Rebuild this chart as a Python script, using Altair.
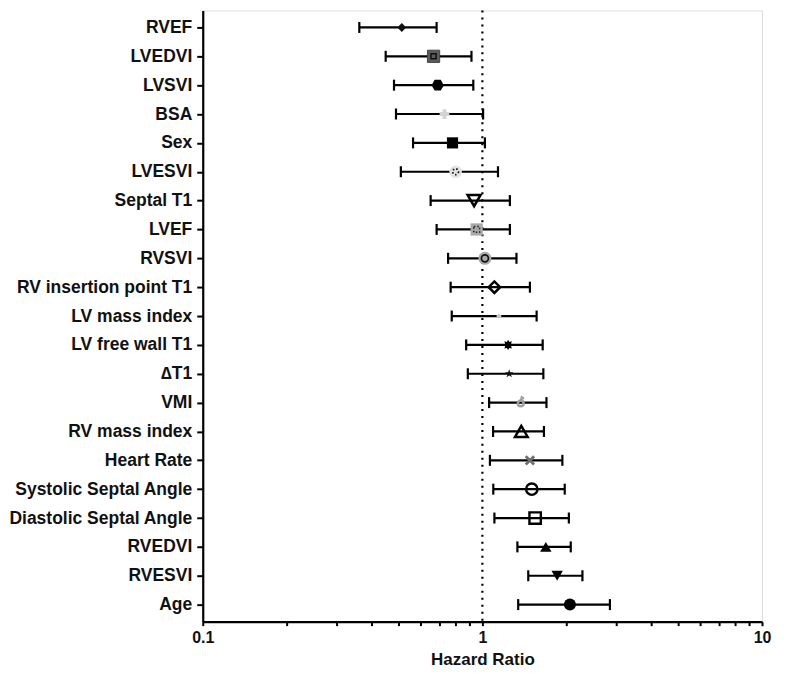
import altair as alt
import pandas as pd
import numpy as np

# ---------------- data ----------------
labels = ["RVEF", "LVEDVI", "LVSVI", "BSA", "Sex", "LVESVI", "Septal T1", "LVEF", "RVSVI",
          "RV insertion point T1", "LV mass index", "LV free wall T1", "\u2206T1", "VMI",
          "RV mass index", "Heart Rate", "Systolic Septal Angle", "Diastolic Septal Angle",
          "RVEDVI", "RVESVI", "Age"]
hr = [0.515, 0.669, 0.692, 0.732, 0.782, 0.802, 0.934, 0.954, 1.021, 1.104, 1.146, 1.236,
      1.247, 1.371, 1.378, 1.479, 1.502, 1.544, 1.686, 1.851, 2.056]
lo = [0.363, 0.451, 0.483, 0.491, 0.565, 0.511, 0.653, 0.686, 0.754, 0.770, 0.777, 0.875,
      0.887, 1.057, 1.092, 1.064, 1.094, 1.104, 1.334, 1.459, 1.343]
hi = [0.686, 0.914, 0.928, 1.006, 1.021, 1.137, 1.254, 1.254, 1.324, 1.479, 1.563, 1.643,
      1.652, 1.695, 1.660, 1.932, 1.970, 2.038, 2.070, 2.279, 2.858]
ref_value = [1]
tick_values = [0.1, 0.2, 0.3, 0.4, 0.5, 0.6, 0.7, 0.8, 0.9, 1, 2, 3, 4, 5, 6, 7, 8, 9, 10]

df = pd.DataFrame({"label": labels, "hr": hr, "lo": lo, "hi": hi})

# ---------------- marker styles ----------------
HEX = "M-1,0L-0.5,-0.87L0.5,-0.87L1,0L0.5,0.87L-0.5,0.87Z"
STAR = ("M0,-1L0.235,-0.324L0.951,-0.309L0.38,0.124L0.588,0.809L0,0.4L-0.588,0.809"
        "L-0.38,0.124L-0.951,-0.309L-0.235,-0.324Z")
ang = np.arange(16) * np.pi / 8
rad = np.where(np.arange(16) % 2 == 0, 1.0, 0.62)
AST = "M" + "L".join(f"{r*np.sin(a):.3f},{-r*np.cos(a):.3f}" for r, a in zip(rad, ang)) + "Z"
XSH = "M-1,-1L1,1M-1,1L1,-1"
MALE = ("M0.5,0.15A0.5,0.5 0 1,1 -0.5,0.15A0.5,0.5 0 1,1 0.5,0.15"
        "M0.05,-0.35L0.2,-0.9L0.55,-0.7")

# shape, fill, stroke, size, strokeWidth
style = {
    "RVEF": ("diamond", "#111", "#111", 80, 0),
    "LVEDVI": ("square", "#5c5c5c", "#444", 150, 1),
    "LVSVI": (HEX, "#000", "#000", 150, 0),
    "BSA": ("cross", "#d4d4d4", "#d4d4d4", 95, 0),
    "Sex": ("square", "#000", "#000", 125, 0),
    "LVESVI": ("circle", "#e3e3e3", "#e3e3e3", 160, 0),
    "Septal T1": ("triangle-down", "none", "#000", 170, 2.5),
    "LVEF": ("square", "#a9a9a9", "#a9a9a9", 150, 0),
    "RVSVI": ("circle", "#aaaaaa", "#aaaaaa", 170, 0),
    "RV insertion point T1": ("diamond", "none", "#000", 130, 2.5),
    "LV mass index": ("cross", "#c8c8c8", "#c8c8c8", 22, 0),
    "LV free wall T1": (AST, "#000", "#000", 110, 0),
    "\u2206T1": (STAR, "#111", "#111", 80, 0),
    "VMI": (MALE, "none", "#a0a0a0", 130, 2.5),
    "RV mass index": ("triangle-up", "none", "#000", 160, 2.5),
    "Heart Rate": (XSH, "none", "#707070", 70, 2.8),
    "Systolic Septal Angle": ("circle", "none", "#000", 130, 2.4),
    "Diastolic Septal Angle": ("square", "none", "#000", 130, 2.4),
    "RVEDVI": ("triangle-up", "#000", "#000", 130, 0),
    "RVESVI": ("triangle-down", "#000", "#000", 130, 0),
    "Age": ("circle", "#000", "#000", 145, 0),
}

FONT = "Liberation Sans"
W, H = 560, 612

xscale = alt.Scale(type="log", domain=[0.1, 10], nice=False)
yscale = alt.Scale(type="point", domain=labels, padding=0.59)

x_axis = alt.Axis(values=tick_values,
                  labelExpr="(datum.value == 0.1 || datum.value == 1 || datum.value == 10) ? ('' + datum.value) : ''",
                  labelOverlap=False, labelFont=FONT, labelFontSize=16, labelFontWeight="bold",
                  labelColor="#111", title="Hazard Ratio", titleFont=FONT, titleFontSize=17,
                  titleFontWeight="bold", titleColor="#111", titlePadding=6, tickSize=4,
                  tickWidth=2, tickColor="#000", domainWidth=2.2, domainColor="#000",
                  labelPadding=4, grid=False, labelFlush=False)
y_axis = alt.Axis(title=None, labelFont=FONT, labelFontSize=17.5, labelFontWeight="bold",
                  labelColor="#111", tickSize=6, tickWidth=2, tickColor="#000",
                  domainWidth=2.2, domainColor="#000", labelPadding=5, grid=False,
                  labelLimit=400)

base = alt.Chart(df)

ref = alt.Chart(pd.DataFrame({"v": ref_value})).mark_rule(
    color="#000", strokeWidth=2.2, strokeDash=[2, 5]
).encode(x=alt.X("v:Q", scale=xscale, axis=x_axis))

bars = base.mark_rule(color="#000", strokeWidth=2.2).encode(
    x=alt.X("lo:Q", scale=xscale, axis=x_axis),
    x2="hi:Q",
    y=alt.Y("label:N", scale=yscale, axis=y_axis, sort=labels),
)
cap_lo = base.mark_tick(color="#000", thickness=2.2, size=11, opacity=1).encode(
    x="lo:Q", y=alt.Y("label:N", sort=labels))
cap_hi = base.mark_tick(color="#000", thickness=2.2, size=11, opacity=1).encode(
    x="hi:Q", y=alt.Y("label:N", sort=labels))


def marker(name, shape, fill, stroke, size, sw, **extra):
    return base.transform_filter(
        alt.FieldOneOfPredicate(field="label", oneOf=[name])
    ).mark_point(shape=shape, fill=fill, stroke=stroke, size=size, strokeWidth=sw,
                 opacity=1, fillOpacity=1, strokeOpacity=1, **extra).encode(
        x="hr:Q", y=alt.Y("label:N", sort=labels))


point_layers = [marker(name, *style[name]) for name in labels]

inners = [
    marker("LVEDVI", "square", "none", "#111", 26, 1.5),
    marker("LVESVI", "circle", "none", "#111", 34, 1.7, strokeDash=[1.5, 2]),
    marker("LVEF", "square", "none", "#222", 34, 1.5, strokeDash=[1.5, 2]),
    marker("RVSVI", "circle", "none", "#111", 50, 1.7),
]

chart = alt.layer(ref, bars, cap_lo, cap_hi, *point_layers, *inners).properties(
    width=W, height=H, padding={"left": 0, "top": 0, "right": 8, "bottom": 0}
).configure_view(stroke=None).configure(background="white")

chart.save("out.html", embed_options={"renderer": "svg", "actions": False})
